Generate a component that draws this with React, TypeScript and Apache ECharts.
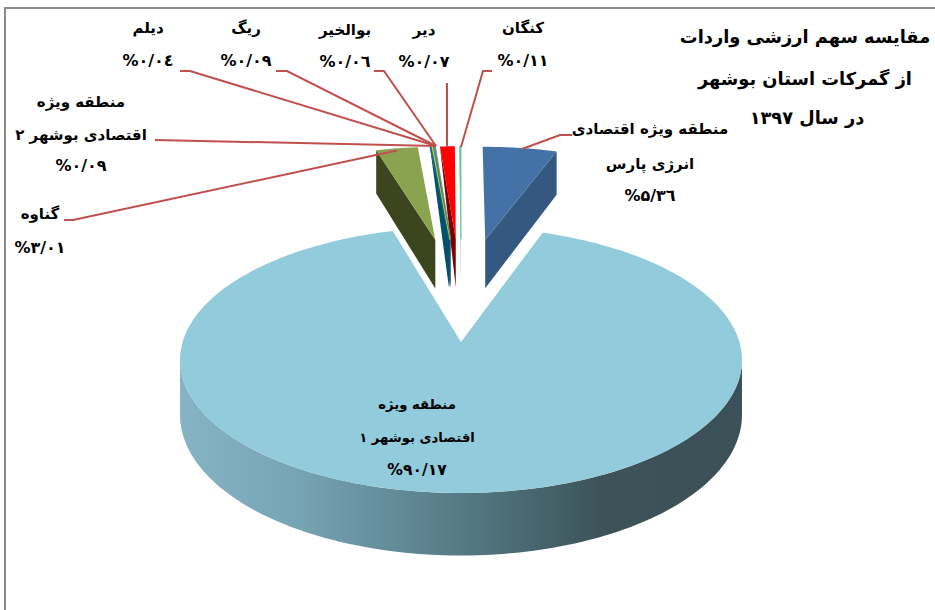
import React, { useEffect, useRef } from "react";
import * as echarts from "echarts";

// clockwise from 12 o'clock
const shares = [5.36, 90.17, 3.01, 0.09, 0.04, 0.09, 0.06, 1.07, 0.11];
const nameLines = [
  ["منطقه ویژه اقتصادی", "انرژی پارس"],
  ["منطقه ویژه", "اقتصادی بوشهر ۱"],
  ["گناوه"],
  ["منطقه ویژه", "اقتصادی بوشهر ۲"],
  ["دیلم"],
  ["ریگ"],
  ["بوالخیر"],
  ["دیر"],
  ["کنگان"],
];
const percentLabels = ["%۵/۳٦", "%۹۰/۱۷", "%۳/۰۱", "%۰/۰۹", "%۰/۰٤", "%۰/۰۹", "%۰/۰٦", "%۰/۰۷", "%۰/۱۱"];
const titleLines = ["مقایسه سهم ارزشی واردات", "از گمرکات استان بوشهر", "در سال ۱۳۹۷"];

// styling: top, wall
const topColors = ["#4472A6", "#92CBDB", "#8AA34E", "#0F6480", "#E8E000", "#3F7FB0", "#6F8F50", "#FF0000", "#6CC48F"];
const wallColors = ["#34587F", "", "#3C451D", "#004F6B", "#004F6B", "#1F5A80", "#2F5A60", "#7C0000", "#8FB8A8"];
const drawOrder = [1, 0, 2, 8, 7, 6, 5, 4, 3];

// label layout [centre x, y of each text line]
const labelX = [650, 417, 40, 81, 148, 246, 345, 424, 523];
const labelY = [
  [129, 164, 195],
  [404, 437, 470],
  [214, 247],
  [102, 135, 165],
  [28, 60],
  [28, 60],
  [30, 61],
  [30, 61],
  [28, 60],
];
const leaders = [
  [[572, 135], [560, 135], [522, 149]],
  null,
  [[64, 220], [73, 220], [397, 150.5]],
  [[155, 140], [436, 146]],
  [[180, 71], [190, 71], [436, 146]],
  [[276, 71], [287, 71], [436, 146]],
  [[374, 71], [384, 71], [436, 146]],
  [[447, 83], [447, 147]],
  [[492, 71], [483, 71], [461, 147]],
];

// projection of the tilted pie
const CX = 461.5, APEX_Y = 342, A = 278.4, B = 130.6, Q = 0.1353, T = 54;
const EXPLODE_Y = 0.44, EXPLODE_X = 0.568;
const rad = (d: number) => (d * Math.PI) / 180;
const total = shares.reduce((a, b) => a + b, 0);

const startAngles: number[] = [];
shares.reduce((acc, v, i) => {
  startAngles[i] = acc;
  return acc + (v / total) * 360;
}, 0);

function makeProjector(start: number, sweep: number) {
  const mid = rad(start + sweep / 2);
  const big = sweep > 180;
  const ox = big ? 0 : EXPLODE_X * Math.sin(mid);
  const ou = EXPLODE_Y * (1 + Math.cos(mid));
  const cx = big ? 461 : CX;
  const at = (r: number, deg: number, depth: number) => {
    const X = ox + r * Math.sin(rad(deg));
    const u = ou + r * Math.cos(rad(deg));
    const d = 1 + Q * u;
    return [cx + (A * X) / d, APEX_Y - (B * u) / d + (depth * T) / d];
  };
  return at;
}

function arcPoints(at: any, from: number, to: number, depth: number) {
  const pts: number[][] = [];
  const n = Math.max(2, Math.ceil(Math.abs(to - from) / 1.5));
  for (let i = 0; i <= n; i++) pts.push(at(1, from + ((to - from) * i) / n, depth));
  return pts;
}

const renderItem = (_: any, api: any) => {
  const value = api.value(0) as number;
  const start = api.value(1) as number;
  const idx = api.value(2) as number;
  const sweep = (value / total) * 360;
  const at = makeProjector(start, sweep);
  const end = start + sweep;
  const children: any[] = [];
  const poly = (points: number[][], fill: any, stroke: any = null, lineWidth = 0) => ({
    type: "polygon",
    shape: { points },
    style: { fill, stroke, lineWidth },
    silent: true,
  });
  if (sweep > 180) {
    const top = arcPoints(at, 97.8, 262.2, 0);
    const bot = arcPoints(at, 97.8, 262.2, 1).reverse();
    children.push(
      poly(top.concat(bot), {
        type: "linear",
        x: 0,
        y: 0,
        x2: 1,
        y2: 0,
        colorStops: [
          { offset: 0, color: "#86B4C4" },
          { offset: 0.2, color: "#78A5B5" },
          { offset: 0.5, color: "#557A85" },
          { offset: 0.75, color: "#3C5359" },
          { offset: 1, color: "#3C5157" },
        ],
      })
    );
  } else {
    const wallAngle = start + sweep / 2 > 180 ? start : end;
    const wall =
      sweep < 5
        ? [at(0, 0, 0), at(1, wallAngle, 0), at(0, 0, 1)]
        : [at(0, 0, 0), at(1, wallAngle, 0), at(1, wallAngle, 1), at(0, 0, 1)];
    children.push(poly(wall, wallColors[idx]));
  }
  const thin = sweep < 1;
  children.push(
    poly([at(0, 0, 0), ...arcPoints(at, start, end, 0)], topColors[idx], thin ? topColors[idx] : null, thin ? 0.7 : 0)
  );
  return { type: "group", children };
};

const FONT = "DejaVu Sans";

function buildGraphics() {
  const els: any[] = [];
  els.push({
    type: "polyline",
    shape: { points: [[5, 610], [5, 8], [935, 8]] },
    style: { stroke: "#8C8C8C", lineWidth: 2, fill: null },
    silent: true,
  });
  leaders.forEach((points) => {
    if (!points) return;
    els.push({
      type: "polyline",
      shape: { points },
      style: { stroke: "#C0504D", lineWidth: 2, fill: null },
      silent: true,
      z: 5,
    });
  });
  const txt = (text: string, x: number, y: number, size: number) => ({
    type: "text",
    x,
    y,
    z: 6,
    silent: true,
    style: {
      text,
      fill: "#000",
      font: `bold ${size}px "${FONT}"`,
      textAlign: "center",
      textVerticalAlign: "middle",
    },
  });
  nameLines.forEach((lines, i) => {
    const nameSize = i === 1 ? 13.2 : 15;
    lines.forEach((t, j) => els.push(txt(t, labelX[i], labelY[i][j], nameSize)));
    els.push(txt(percentLabels[i], labelX[i], labelY[i][lines.length], i === 1 ? 15.6 : 16));
  });
  const titleX = [805, 805, 807];
  const titleY = [36, 78, 117];
  titleLines.forEach((t, i) => els.push(txt(t, titleX[i], titleY[i], 17.8)));
  return els;
}

export default function App() {
  const ref = useRef<HTMLDivElement>(null);
  useEffect(() => {
    document.body.style.margin = "0";
    const chart = echarts.init(ref.current!, undefined, { renderer: "svg" });
    chart.setOption({
      animation: false,
      backgroundColor: "#fff",
      graphic: buildGraphics(),
      series: [
        {
          type: "custom",
          coordinateSystem: "none",
          silent: true,
          renderItem,
          data: drawOrder.map((i) => [shares[i], startAngles[i], i]),
        },
      ],
    });
    return () => chart.dispose();
  }, []);
  return <div ref={ref} style={{ width: 935, height: 610 }} />;
}
